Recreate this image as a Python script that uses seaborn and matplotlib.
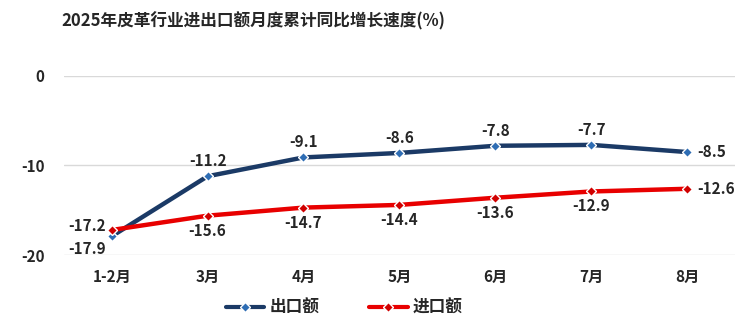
import matplotlib
matplotlib.use("Agg")
import matplotlib.pyplot as plt
import seaborn as sns
import pandas as pd
from matplotlib.lines import Line2D

months = ["1-2月", "3月", "4月", "5月", "6月", "7月", "8月"]
export_vals = [-17.9, -11.2, -9.1, -8.6, -7.8, -7.7, -8.5]
import_vals = [-17.2, -15.6, -14.7, -14.4, -13.6, -12.9, -12.6]
series_names = ["出口额", "进口额"]
title = "2025年皮革行业进出口额月度累计同比增长速度(%)"
yticks = [0, -10, -20]

sns.set_theme(style="white")
plt.rcParams['font.family'] = ['Noto Sans CJK SC', 'DejaVu Sans']
plt.rcParams['axes.unicode_minus'] = False

df = pd.DataFrame({
    "month": months * 2,
    "value": export_vals + import_vals,
    "series": [series_names[0]] * len(months) + [series_names[1]] * len(months),
})

line_colors = {"出口额": "#1B3A66", "进口额": "#E80000"}
marker_colors = {"出口额": "#2E6DB4", "进口额": "#D00000"}

fig = plt.figure(figsize=(7.5, 3.3), dpi=100)
ax = fig.add_axes([0.085, 0.227, 0.895, 0.543])

sns.lineplot(data=df, x="month", y="value", hue="series", palette=line_colors,
             linewidth=3.2, ax=ax, legend=False, sort=False)
for name, vals in zip(series_names, [export_vals, import_vals]):
    ax.plot(range(len(months)), vals, linestyle="none", marker="D", markersize=5.5,
            markerfacecolor=marker_colors[name], markeredgecolor="white", markeredgewidth=1, zorder=5)

ax.set_xlim(-0.5, len(months) - 0.5)
ax.set_ylim(-20, 0)
ax.set_yticks(yticks)
ax.set_yticklabels([str(t) for t in yticks])
ax.yaxis.grid(True, color="#D9D9D9", linewidth=1)
ax.xaxis.grid(False)
for s in ax.spines.values():
    s.set_visible(False)
ax.set_xlabel("")
ax.set_ylabel("")
ax.tick_params(axis="both", length=0, labelsize=11)
ax.tick_params(axis="y", pad=14)
ax.tick_params(axis="x", pad=10)
for lab in ax.get_xticklabels() + ax.get_yticklabels():
    lab.set_fontweight("bold")

fs = 11
for i, v in enumerate(export_vals):
    if i == 0:
        ax.annotate(f"{v}", (i, v), xytext=(-4, -9), textcoords="offset points",
                    ha="right", va="center", fontsize=fs, fontweight="bold")
    elif i == len(months) - 1:
        ax.annotate(f"{v}", (i, v), xytext=(7, 0), textcoords="offset points",
                    ha="left", va="center", fontsize=fs, fontweight="bold")
    else:
        ax.annotate(f"{v}", (i, v), xytext=(0, 5), textcoords="offset points",
                    ha="center", va="bottom", fontsize=fs, fontweight="bold")
for i, v in enumerate(import_vals):
    if i == 0:
        ax.annotate(f"{v}", (i, v), xytext=(-4, 3), textcoords="offset points",
                    ha="right", va="center", fontsize=fs, fontweight="bold")
    elif i == len(months) - 1:
        ax.annotate(f"{v}", (i, v), xytext=(7, 0), textcoords="offset points",
                    ha="left", va="center", fontsize=fs, fontweight="bold")
    else:
        ax.annotate(f"{v}", (i, v), xytext=(0, -5), textcoords="offset points",
                    ha="center", va="top", fontsize=fs, fontweight="bold")

fig.text(0.338, 0.935, title, ha="center", va="center", fontsize=12, fontweight="bold")

handles = [Line2D([0], [0], color=line_colors[n], linewidth=3, marker="D", markersize=5,
                  markerfacecolor=marker_colors[n], markeredgecolor="white") for n in series_names]
leg = fig.legend(handles, series_names, loc="center", bbox_to_anchor=(0.459, 0.068), ncol=2,
                 frameon=False, fontsize=12, handlelength=2.3, columnspacing=3.0, handletextpad=0.3)
for t in leg.get_texts():
    t.set_fontweight("bold")

fig.savefig("out.png", dpi=100)
